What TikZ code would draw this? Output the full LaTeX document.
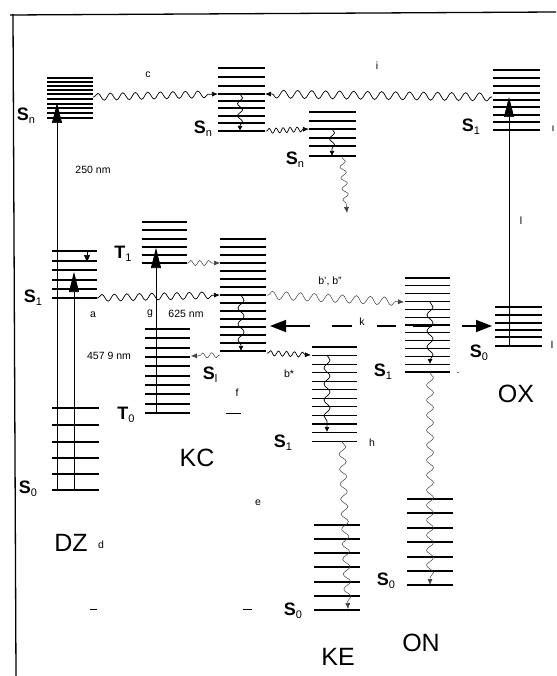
\documentclass[tikz,border=0pt]{standalone}
\usepackage{fontspec}
\setmainfont{Liberation Sans}
\usetikzlibrary{arrows.meta,decorations.pathmorphing}
\newcommand\lvlab[2]{{\fontsize{18}{18}\selectfont\bfseries #1}\raisebox{-3pt}{\fontsize{11}{11}\selectfont #2}}
\newcommand\ladder[3]{\foreach \yy in {#3} {\draw[lvl] (#1,\yy) -- (#2,\yy);}}
\tikzset{
  lvl/.style={line width=1.1pt},
  vline/.style={line width=0.7pt},
  pump/.style={vline, -{Triangle[length=20pt,width=10pt]}},
  wave/.style={decorate, decoration={snake, amplitude=3.5pt, segment length=12.5pt, pre length=1pt, post length=5pt}, line width=0.7pt, -{Latex[length=6pt,width=5pt]}},
  lwave/.style={wave, line width=0.5pt, gray!50!black},
  relax/.style={decorate, decoration={snake, amplitude=3pt, segment length=16pt, post length=4pt}, line width=0.7pt, -{Latex[length=5pt,width=5pt]}},
  lab/.style={font=\fontsize{10.5}{10.5}\selectfont, inner sep=0pt},
  big/.style={font=\fontsize{25}{25}\selectfont, inner sep=0pt},
  slab/.style={inner sep=0pt},
  kseg/.style={line width=1.5pt},
  karrow/.style={line width=1.5pt, -{Triangle[length=16pt,width=12pt]}}
}
\begin{document}
\begin{tikzpicture}[x=1pt,y=-1pt]
\useasboundingbox (0,0) rectangle (556,676);
\fill[white] (0,0) rectangle (556,676);
% frame
\draw[line width=1.3pt] (10,15) -- (556,12);
\draw[line width=1.3pt] (13,14) -- (16,676);

% ---------- ladders ----------
\ladder{47}{93}{78,82,86,90,94,99,104,108,113}
\draw[lvl, line width=1.5pt] (47,118) -- (93,118);
\ladder{52}{97}{251,261,270,280,289}
\draw[lvl, line width=1.5pt] (52,298) -- (97,298);
\ladder{52}{99}{408,425,442,458,474,490}
\ladder{142}{187}{222,230,239,247,255}
\draw[lvl, line width=1.5pt] (142,263) -- (187,263);
\ladder{145}{190}{329,338,348,357,366,376,385,394,404,413}
\ladder{218}{265}{68,77,86,94,101,108,116,123}
\draw[lvl, line width=1.5pt] (218,131) -- (265,131);
\ladder{309}{356}{112,121,129,138,146}
\draw[lvl, line width=1.5pt] (309,156) -- (356,156);
\ladder{220}{266}{239,247,255,263,271,279,287,295,303,311,319,327,335,343}
\draw[lvl, line width=1.5pt] (220,351) -- (266,351);
\foreach \i in {0,...,12} {\draw[lvl] (405,278+7.83*\i) -- (450,278+7.83*\i);}
\foreach \i in {0,...,11} {\draw[lvl] (312,347+8.55*\i) -- (357,347+8.55*\i);}
\ladder{314}{360}{525,539,553,567,582,596,610}
\ladder{407}{453}{499,513,528,542,557,571,585}
\ladder{493}{540}{70,78,86,93,100,107,115,122,130}
\ladder{495}{542}{307,315,323,330,337,346}

% ---------- coordinates ----------
\coordinate (dzG1) at (57,490);
\coordinate (dzSn) at (57,103);
\coordinate (dzG2) at (74,490);
\coordinate (dzS1) at (74,272);
\coordinate (kcT0) at (156,413);
\coordinate (kcT1) at (156,248);
\coordinate (oxS0) at (509,346);
\coordinate (oxS1) at (509,97);
\coordinate (dzSnR) at (93,97);
\coordinate (kcSnL) at (218,94);
\coordinate (kcSnR) at (265,94);
\coordinate (oxS1L) at (492,97);
\coordinate (kcSnA) at (240,94);
\coordinate (kcSnB) at (240,131);
\coordinate (kcSnBR) at (266,131);
\coordinate (onSnL) at (309,129);
\coordinate (onSnA) at (332,129);
\coordinate (onSnB) at (332,156);
\coordinate (onSnC) at (342,157);
\coordinate (onSnD) at (347,213);
\coordinate (kcT1R) at (187,263);
\coordinate (kcS1L) at (220,263);
\coordinate (dzS1R) at (97,298);
\coordinate (kcS1a) at (220,295);
\coordinate (kcS1A) at (241,295);
\coordinate (kcS1B) at (241,351);
\coordinate (kcS1BL) at (220,355);
\coordinate (kcT0R) at (191,356);
\coordinate (kcS1BR) at (267,353);
\coordinate (keS1L) at (311,355);
\coordinate (kcS1R) at (267,295);
\coordinate (onS1L) at (404,302);
\coordinate (onS1A) at (430,302);
\coordinate (onS1B) at (430,364);
\coordinate (onS1C) at (430,372);
\coordinate (onS0) at (430,585);
\coordinate (keS1A) at (327,355);
\coordinate (keS1B) at (327,432);
\coordinate (keS1C) at (342,441);
\coordinate (keS0) at (348,609);
\coordinate (dzS1t) at (87,251);
\coordinate (dzS1u) at (87,262);
\coordinate (kL) at (270,326);
\coordinate (kR) at (492,326);

% ---------- vertical absorption lines ----------
\draw[pump] (dzG1) -- (dzSn);
\draw[pump] (dzG2) -- (dzS1);
\draw[pump] (kcT0) -- (kcT1);
\draw[pump] (oxS0) -- (oxS1);
\draw[vline, -{Triangle[length=7pt,width=6pt]}] (dzS1t) -- (dzS1u);

% ---------- wavy transitions ----------
\draw[wave] (dzSnR) -- (kcSnL);
\draw[wave, decoration={snake, amplitude=4pt, segment length=14pt, post length=5pt}] (oxS1L) -- (kcSnR);
\draw[relax, decoration={snake, amplitude=2.5pt, segment length=12pt, post length=4pt}] (kcSnA) -- (kcSnB);
\draw[wave, decoration={snake, amplitude=2.5pt, segment length=7pt, post length=5pt}] (kcSnBR) -- (onSnL);
\draw[relax, decoration={snake, amplitude=2.5pt, segment length=12pt, post length=4pt}] (onSnA) -- (onSnB);
\draw[lwave, decoration={snake, amplitude=3pt, segment length=11pt, post length=5pt}] (onSnC) -- (onSnD);
\draw[lwave, decoration={snake, amplitude=2.5pt, segment length=9pt, post length=5pt}] (kcT1R) -- (kcS1L);
\draw[wave] (dzS1R) -- (kcS1a);
\draw[relax] (kcS1A) -- (kcS1B);
\draw[lwave, decoration={snake, amplitude=2.5pt, segment length=9pt, post length=5pt}] (kcS1BL) -- (kcT0R);
\draw[wave, decoration={snake, amplitude=2.5pt, segment length=8pt, post length=5pt}] (kcS1BR) -- (keS1L);
\draw[lwave, decoration={snake, amplitude=4pt, segment length=14pt, post length=5pt}] (kcS1R) -- (onS1L);
\draw[relax] (onS1A) -- (onS1B);
\draw[lwave, decoration={snake, amplitude=3.5pt, segment length=15pt, post length=4pt}] (onS1C) -- (onS0);
\draw[relax] (keS1A) -- (keS1B);
\draw[lwave, decoration={snake, amplitude=3.5pt, segment length=15pt, post length=4pt}] (keS1C) -- (keS0);

% ---------- k double arrow (dashed) ----------
\draw[karrow] (310,326) -- (kL);
\draw[kseg] (332,326) -- (352,326);
\draw[kseg] (377,326) -- (396,326);
\draw[kseg] (413,326) -- (432,326);
\draw[karrow] (462,326) -- (kR);

% ---------- level labels ----------
\node[slab] (lDZSn) at (26,116) {\lvlab{S}{n}};
\node[slab] (lDZS1) at (33,298) {\lvlab{S}{1}};
\node[slab] (lDZS0) at (28,489) {\lvlab{S}{0}};
\node[slab] (lKCT1) at (123,254) {\lvlab{T}{1}};
\node[slab] (lKCT0) at (126,415) {\lvlab{T}{0}};
\node[slab] (lKCSn) at (203,129) {\lvlab{S}{n}};
\node[slab] (lONSn) at (295,160) {\lvlab{S}{n}};
\node[slab] (lKCS1) at (210,375) {\lvlab{S}{l}};
\node[slab] (lKES1) at (283,443) {\lvlab{S}{1}};
\node[slab] (lKES0) at (293,611) {\lvlab{S}{0}};
\node[slab] (lONS1) at (383,372) {\lvlab{S}{1}};
\node[slab] (lONS0) at (386,581) {\lvlab{S}{0}};
\node[slab] (lOXS1) at (471,127) {\lvlab{S}{1}};
\node[slab] (lOXS0) at (479,353) {\lvlab{S}{0}};

% ---------- molecule labels ----------
\node[big] (nDZ) at (71,543) {DZ};
\node[big] (nKC) at (197,458) {KC};
\node[big] (nKE) at (338,657) {KE};
\node[big] (nON) at (421,643) {ON};
\node[big] (nOX) at (516,394) {OX};

% ---------- small labels ----------
\node[lab] (tc) at (148,75) {c};
\node[lab] (ti) at (377,66) {i};
\node[lab] (t250) at (93,170) {250 nm};
\node[lab] (ta) at (93,315) {a};
\node[lab] (tg) at (150,314) {g};
\node[lab] (t625) at (186,314) {625 nm};
\node[lab] (t457) at (109,356) {457 9 nm};
\node[lab] (tf) at (237,393) {f};
\node[lab] (te) at (258,503) {e};
\node[lab] (td) at (101,545) {d};
\node[lab] (tb) at (330,281) {b', b''};
\node[lab] (tk) at (362,322) {k};
\node[lab] (tbs) at (289,374) {b*};
\node[lab] (th) at (372,443) {h};
\node[lab] (tl) at (521,221) {l};
\node[lab] (te1) at (553,129) {ı};
\node[lab] (te2) at (552,345) {I};
\node[lab] (tdot) at (458,373) {.};
\draw[line width=0.8pt] (226,413) -- (241,413);
\draw[line width=0.8pt] (90,609) -- (97,609);
\draw[line width=0.8pt] (243,609) -- (252,609);
\end{tikzpicture}
\end{document}
